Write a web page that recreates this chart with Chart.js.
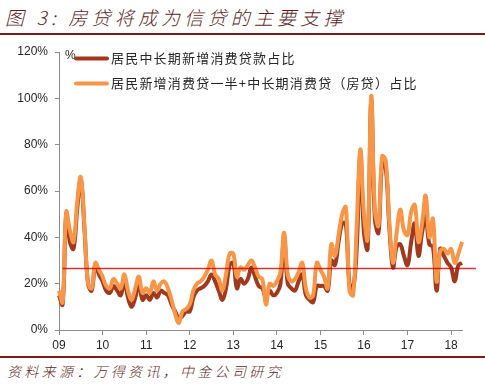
<!DOCTYPE html>
<html>
<head>
<meta charset="utf-8">
<script src="https://cdn.jsdelivr.net/npm/chart.js@4.4.1/dist/chart.umd.min.js"></script>
<style>
  body { margin: 0; width: 485px; height: 384px; background: #fff; overflow: hidden;
         font-family: "Noto Sans CJK SC", sans-serif; }
  #title { height: 33px; line-height: 33px; border-bottom: 2px solid #7b1b1b; color: #5e1f1f;
           font-size: 19px; font-weight: 300; font-style: italic; letter-spacing: 4.2px;
           padding-left: 5px; white-space: nowrap; }
  #box { position: relative; width: 485px; height: 321px; }
  #source { border-top: 2px solid #7b1b1b; color: #5e1f1f; font-size: 14px; font-weight: 300;
            font-style: italic; letter-spacing: 3.3px; padding-left: 7px; height: 26px;
            line-height: 26px; white-space: nowrap; }
</style>
</head>
<body>
<div id="title">图 3: 房贷将成为信贷的主要支撑</div>
<div id="box"><canvas id="loanChart"></canvas></div>
<div id="source">资料来源：万得资讯，中金公司研究</div>
<script>
// monthly, Jan 2009 .. Apr 2018
const yearLabels = ["09", "10", "11", "12", "13", "14", "15", "16", "17", "18"];
const FIRST_YEAR = 2009;
const MONTH_COUNT = 112;

const seriesNames = [
    "居民中长期新增消费贷款占比",
    "居民新增消费贷一半+中长期消费贷（房贷）占比"
];

const midLongShare = [
    15, 11, 50, 38, 35, 52, 65, 44, 20, 17, 28, 24,
    21, 17, 16, 19, 17, 15, 21, 14, 10, 14, 20, 13,
    15, 13, 16, 14, 17, 16, 15, 11, 8, 5, 6, 8,
    8, 14, 17, 18, 19, 21, 24, 21, 17, 13, 18, 28,
    29, 18, 22, 20, 22, 27, 23, 19, 18, 14, 17, 15,
    16, 20, 40, 20, 18, 17, 21, 24, 15, 13, 12, 19,
    19, 19, 17, 30, 28, 38, 46, 46, 20, 18, 35, 76,
    42, 35, 99, 48, 42, 72, 70, 44, 27, 36, 37, 32,
    28, 38, 46, 32, 42, 49, 37, 36, 17, 35, 32, 29,
    27, 21, 28, 29
];

const halfConsumerPlusMortgage = [
    17, 12, 51, 43, 38, 55, 66, 45, 20, 18, 29, 26,
    23, 19, 18, 22, 20, 18, 24, 17, 13, 18, 23, 16,
    18, 16, 21, 17, 20, 21, 18, 13, 7, 3, 8, 9,
    11, 17, 20, 21, 23, 26, 30, 24, 22, 17, 24, 33,
    33, 23, 27, 26, 28, 30, 27, 23, 22, 11, 20, 19,
    21, 25, 42, 24, 21, 22, 25, 29, 18, 14, 15, 29,
    26, 23, 18, 37, 32, 41, 50, 53, 17, 15, 45, 78,
    50, 39, 101, 52, 45, 75, 73, 46, 29, 42, 52, 43,
    41, 51, 54, 38, 46, 58, 40, 48, 21, 34, 35, 33,
    35, 29, 33, 38
];

const AVERAGE_LEVEL = 26.6;
const yTicks = [0, 20, 40, 60, 80, 100, 120];

const COLORS = {
    dark: "#a0391d",
    light: "#f79646",
    average: "rgba(200,0,0,0.8)",
    axis: "#8c8c8c",
    text: "#262626"
};

const monthLabels = [];
for (let i = 0; i < MONTH_COUNT; i++) {
    const y = FIRST_YEAR + Math.floor(i / 12);
    monthLabels.push(y + "-" + String(i % 12 + 1).padStart(2, "0"));
}

// average line, unit mark and the legend drawn over the plot
const overlay = {
    id: "overlay",
    afterDatasetsDraw(chart) {
        const { ctx, chartArea, scales: { x, y } } = chart;
        const yPix = y.getPixelForValue(AVERAGE_LEVEL);

        ctx.save();
        ctx.strokeStyle = COLORS.average;
        ctx.lineWidth = 1.5;
        ctx.beginPath();
        ctx.moveTo(x.getPixelForValue(1), yPix);
        ctx.lineTo(chart.width - 9, yPix);
        ctx.stroke();

        ctx.fillStyle = COLORS.text;
        ctx.font = "12px 'Liberation Sans', Arial, sans-serif";
        ctx.textBaseline = "middle";
        ctx.fillText("%", chartArea.left + 6, chartArea.top + 4);

        const legendOrder = [1, 0];
        legendOrder.forEach((dsIndex, row) => {
            const ds = chart.data.datasets[dsIndex];
            const rowY = chartArea.top + 6.5 + row * 25;
            ctx.strokeStyle = ds.borderColor;
            ctx.lineWidth = 4;
            ctx.lineCap = "round";
            ctx.beginPath();
            ctx.moveTo(chartArea.left + 17, rowY);
            ctx.lineTo(chartArea.left + 48, rowY);
            ctx.stroke();
            ctx.fillStyle = COLORS.text;
            ctx.font = "13px 'Noto Sans CJK SC', sans-serif";
            ctx.letterSpacing = "1.2px";
            ctx.fillText(ds.label, chartArea.left + 52, rowY);
            ctx.letterSpacing = "0px";
        });
        ctx.restore();
    }
};

new Chart(document.getElementById("loanChart"), {
    type: "line",
    data: {
        labels: monthLabels,
        datasets: [
            {
                label: seriesNames[1],
                data: halfConsumerPlusMortgage,
                borderColor: COLORS.light,
                borderWidth: 4,
                pointRadius: 0,
                tension: 0.4,
                order: 1
            },
            {
                label: seriesNames[0],
                data: midLongShare,
                borderColor: COLORS.dark,
                borderWidth: 4,
                pointRadius: 0,
                tension: 0.4,
                order: 2
            }
        ]
    },
    options: {
        responsive: true,
        maintainAspectRatio: false,
        animation: false,
        layout: { padding: { top: 17, right: 23, left: 0, bottom: 0 } },
        plugins: {
            legend: { display: false },
            tooltip: { enabled: false }
        },
        scales: {
            x: {
                afterFit: scale => { scale.height = 26; },
                border: { color: COLORS.axis, width: 1 },
                grid: {
                    drawOnChartArea: false,
                    drawTicks: true,
                    tickLength: 5,
                    color: COLORS.axis
                },
                ticks: {
                    autoSkip: false,
                    maxRotation: 0,
                    padding: 3,
                    color: COLORS.text,
                    font: { family: "'Liberation Sans', Arial, sans-serif", size: 12 },
                    callback: (value, index) => index % 12 === 0 ? yearLabels[index / 12] : null
                }
            },
            y: {
                min: 0,
                max: 120,
                afterFit: scale => { scale.width = 59; },
                afterBuildTicks: scale => { scale.ticks = yTicks.map(v => ({ value: v })); },
                border: { color: COLORS.axis, width: 1 },
                grid: {
                    drawOnChartArea: false,
                    drawTicks: true,
                    tickLength: 4,
                    color: COLORS.axis
                },
                ticks: {
                    padding: 7,
                    color: COLORS.text,
                    font: { family: "'Liberation Sans', Arial, sans-serif", size: 12 },
                    callback: value => value + "%"
                }
            }
        }
    },
    plugins: [overlay]
});
</script>
</body>
</html>
